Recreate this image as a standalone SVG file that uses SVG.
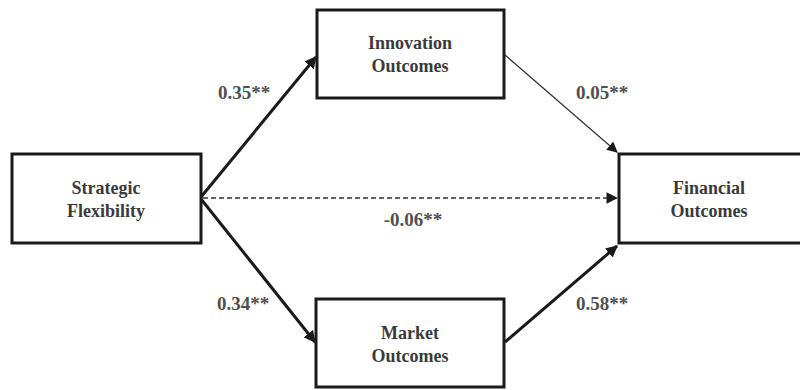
<svg xmlns="http://www.w3.org/2000/svg" width="800" height="390" viewBox="0 0 800 390">
<defs>
<style>
.box{fill:#fff;stroke:#1a1a1a;stroke-width:3}
.t{font-family:"Liberation Serif","Times New Roman","DejaVu Serif",serif;font-weight:bold;font-size:18px;fill:#3a3a3a;text-anchor:middle}
.lbl{font-family:"Liberation Serif","Times New Roman","DejaVu Serif",serif;font-weight:bold;font-size:19px;fill:#505050;text-anchor:middle}
.thick{stroke:#1a1a1a;stroke-width:3;fill:none}
.thin{stroke:#333;stroke-width:1.2;fill:none}
.dash{stroke:#333;stroke-width:1.3;fill:none;stroke-dasharray:5,3}
</style>
<marker id="ah" viewBox="0 0 10 10" refX="9" refY="5" markerWidth="4" markerHeight="4" orient="auto" markerUnits="strokeWidth"><path d="M0,0 L10,5 L0,10 z" fill="#1a1a1a"/></marker>
<marker id="ahs" viewBox="0 0 10 10" refX="9" refY="5" markerWidth="9" markerHeight="9" orient="auto" markerUnits="strokeWidth"><path d="M0,0 L10,5 L0,10 z" fill="#1a1a1a"/></marker>
</defs>
<rect width="800" height="390" fill="#fff"/>
<g id="connectors">
<line class="thick" x1="201" y1="197" x2="316" y2="57" marker-end="url(#ah)"/>
<line class="thick" x1="201" y1="199" x2="315" y2="342" marker-end="url(#ah)"/>
<line class="thin" x1="505" y1="55" x2="617" y2="152" marker-end="url(#ahs)"/>
<line class="thick" x1="505" y1="342" x2="617" y2="246" marker-end="url(#ah)"/>
<line class="dash" x1="203" y1="198" x2="617" y2="198" marker-end="url(#ahs)"/>
</g>
<g id="labels">
<text class="lbl" x="244" y="99">0.35**</text>
<text class="lbl" x="602" y="99">0.05**</text>
<text class="lbl" x="413" y="226">-0.06**</text>
<text class="lbl" x="243" y="310">0.34**</text>
<text class="lbl" x="602" y="310">0.58**</text>
</g>
<g id="strategic-flexibility">
<rect class="box" x="12" y="154" width="189" height="89"/>
<text class="t" x="106" y="194">Strategic</text>
<text class="t" x="106" y="217">Flexibility</text>
</g>
<g id="innovation-outcomes">
<rect class="box" x="317" y="10" width="187" height="88"/>
<text class="t" x="410" y="49">Innovation</text>
<text class="t" x="410" y="72">Outcomes</text>
</g>
<g id="financial-outcomes">
<rect class="box" x="619" y="154" width="186" height="89"/>
<text class="t" x="709" y="194">Financial</text>
<text class="t" x="709" y="217">Outcomes</text>
</g>
<g id="market-outcomes">
<rect class="box" x="316" y="299" width="188" height="88"/>
<text class="t" x="410" y="339">Market</text>
<text class="t" x="410" y="362">Outcomes</text>
</g>
</svg>
